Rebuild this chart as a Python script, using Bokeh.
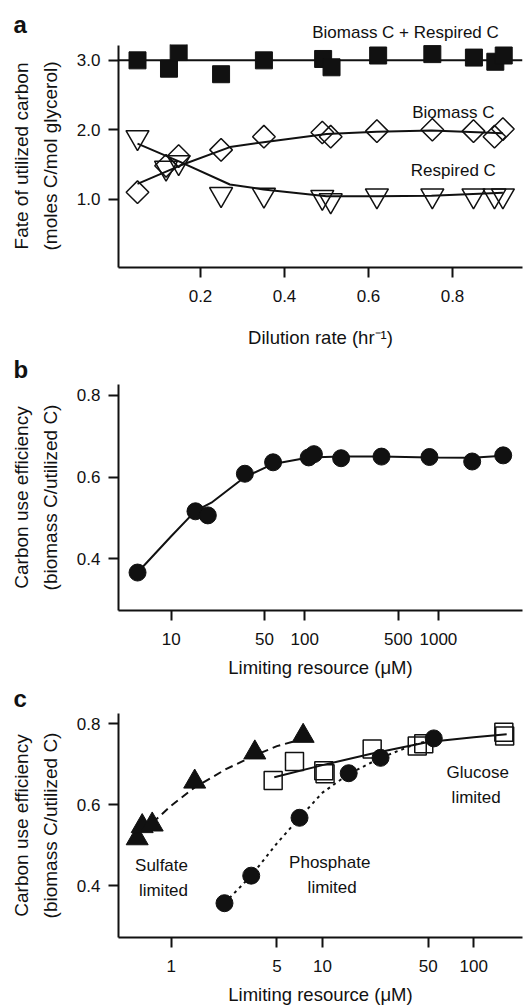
import numpy as np
from bokeh.plotting import figure
from bokeh.layouts import column, row
from bokeh.models import FixedTicker, PrintfTickFormatter, Label, Range1d, Title
from bokeh.core.properties import value
from bokeh.embed import file_html
from bokeh.resources import INLINE

FONT = "Liberation Sans"
INK = "#111111"

# ---------------- Panel a data ----------------
a_total_x = [0.05, 0.125, 0.148, 0.249, 0.351, 0.492, 0.512, 0.623, 0.752, 0.851, 0.902, 0.922]
a_total_y = [3.00, 2.88, 3.12, 2.80, 3.00, 3.02, 2.90, 3.07, 3.09, 3.04, 2.98, 3.07]
a_total_line = 3.0

a_bio_x = [0.05, 0.118, 0.148, 0.249, 0.351, 0.49, 0.51, 0.62, 0.752, 0.85, 0.90, 0.92]
a_bio_y = [1.10, 1.48, 1.62, 1.71, 1.90, 1.96, 1.90, 1.98, 2.00, 1.98, 1.90, 2.01]
a_resp_x = [0.05, 0.118, 0.148, 0.249, 0.351, 0.49, 0.51, 0.62, 0.752, 0.85, 0.90, 0.92]
a_resp_y = [1.89, 1.45, 1.53, 1.07, 1.06, 1.03, 0.98, 1.05, 1.05, 1.05, 1.05, 1.05]

a_fit_x = [0.05, 0.15, 0.27, 0.35, 0.50, 0.62, 0.75, 0.92]
a_bio_fit = [1.22, 1.48, 1.75, 1.82, 1.94, 1.97, 1.99, 1.95]
a_resp_fit = [1.80, 1.54, 1.21, 1.14, 1.04, 1.04, 1.05, 1.09]

a_xticks = [0.2, 0.4, 0.6, 0.8]
a_yticks = [1.0, 2.0, 3.0]
a_yaxis_span = (0.014, 3.214)

# ---------------- Panel b data ----------------
b_x = [5.6, 15.2, 18.8, 35.6, 57.9, 107, 117, 187, 375, 857, 1790, 3055]
b_y = [0.366, 0.516, 0.506, 0.608, 0.636, 0.648, 0.656, 0.646, 0.650, 0.649, 0.638, 0.653]
b_fit_x = [5.6, 10, 15.2, 20, 35.6, 58, 107, 187, 375, 857, 1790, 3055]
b_fit_y = [0.366, 0.455, 0.517, 0.537, 0.600, 0.632, 0.648, 0.650, 0.650, 0.648, 0.647, 0.652]
b_xticks = [10, 50, 100, 500, 1000]
bc_yticks = [0.4, 0.6, 0.8]

# ---------------- Panel c data ----------------
sulf_x = [0.596, 0.643, 0.749, 1.43, 3.57, 7.45]
sulf_y = [0.517, 0.547, 0.551, 0.657, 0.729, 0.770]
sulf_fit_x = [0.75, 1.0, 1.43, 2.3, 3.57, 5.0, 7.45]
sulf_fit_y = [0.555, 0.598, 0.643, 0.688, 0.722, 0.745, 0.763]

gluc_x = [4.72, 6.53, 10.2, 10.4, 21.3, 42.3, 46.7, 158, 160]
gluc_y = [0.660, 0.707, 0.684, 0.677, 0.738, 0.745, 0.751, 0.779, 0.770]
gluc_fit_x = [4.8, 10, 21, 50, 100, 165]
gluc_fit_y = [0.668, 0.698, 0.726, 0.755, 0.767, 0.774]

phos_x = [2.25, 3.38, 7.05, 14.9, 24.2, 54.4]
phos_y = [0.357, 0.425, 0.568, 0.678, 0.716, 0.764]
phos_fit_x = [2.25, 3.38, 5.0, 7.05, 10, 14.9, 24.2, 40, 54.4]
phos_fit_y = [0.357, 0.425, 0.505, 0.568, 0.630, 0.676, 0.716, 0.748, 0.762]
c_xticks = [1, 5, 10, 50, 100]


def style(p, xticks, yticks, xfmt, xlabel, ylabel, xlabel_standoff):
    p.xgrid.visible = False
    p.ygrid.visible = False
    p.outline_line_color = None
    p.background_fill_color = "white"
    p.border_fill_color = "white"
    p.xaxis.ticker = FixedTicker(ticks=xticks)
    p.yaxis.ticker = FixedTicker(ticks=yticks)
    p.xaxis.formatter = PrintfTickFormatter(format=xfmt)
    p.yaxis.formatter = PrintfTickFormatter(format="%.1f")
    for ax in (p.xaxis, p.yaxis):
        ax.axis_line_width = 2
        ax.axis_line_color = INK
        ax.major_tick_line_width = 2
        ax.major_tick_line_color = INK
        ax.major_tick_in = 0
        ax.major_tick_out = 10
        ax.minor_tick_line_color = None
        ax.major_label_text_font = FONT
        ax.major_label_text_font_size = "17px"
        ax.major_label_text_color = INK
        ax.axis_label_text_font = FONT
        ax.axis_label_text_font_style = "normal"
        ax.axis_label_text_color = INK
    p.xaxis.axis_label = xlabel
    p.yaxis.axis_label = ylabel
    p.xaxis.axis_label_text_font_size = "18.5px"
    p.yaxis.axis_label_text_font_size = "19px"
    p.yaxis.axis_label_text_line_height = 1.38
    p.xaxis.major_label_standoff = 12
    p.xaxis.axis_label_standoff = xlabel_standoff
    p.yaxis.major_label_standoff = 8
    p.yaxis.axis_label_standoff = 13


def add_label(p, x, y, text):
    p.add_layout(Label(x=x, y=y, text=text, text_font=FONT, text_font_size="17px",
                       text_align="center", text_baseline="alphabetic",
                       text_color=INK))


def panel_title(letter, offset):
    return Title(text=letter, align="left", offset=offset, standoff=4,
                 text_font=FONT, text_font_size="24px", text_font_style="bold",
                 text_color=INK)


W = 526
LEFT = 118
STRIP_H = 44

# ---------------- Header strip of panel a (letter + top label) ----------------
strip_l = figure(width=LEFT, height=STRIP_H, output_backend="svg", toolbar_location=None,
                 x_range=Range1d(0, 1), y_range=Range1d(0, 1), min_border=0,
                 min_border_left=0, min_border_right=0, min_border_top=39,
                 min_border_bottom=0, frame_align=False,
                 x_axis_location=None, y_axis_location=None)
strip_l.title = panel_title("a", 13)
strip_l.grid.visible = False
strip_l.outline_line_color = None

strip_r = figure(width=W - LEFT, height=STRIP_H, output_backend="svg",
                 toolbar_location=None,
                 x_range=Range1d(LEFT, W), y_range=Range1d(STRIP_H, 0), min_border=0,
                 min_border_left=0, min_border_right=0, min_border_top=0,
                 min_border_bottom=0, frame_align=False,
                 x_axis_location=None, y_axis_location=None, title=None)
strip_r.grid.visible = False
strip_r.outline_line_color = None
strip_r.text(x=[405], y=[31.7], text=["Biomass C + Respired C"], text_font=value(FONT),
             text_font_size="17px", text_align="center", text_baseline="alphabetic",
             text_color=INK)

# ---------------- Figure a ----------------
pa = figure(width=W, height=350 - STRIP_H, output_backend="svg", toolbar_location=None,
            x_range=Range1d(0.00476, 0.9667), y_range=Range1d(0.014, 3.2286),
            min_border_left=LEFT, min_border_right=4, min_border_top=0,
            min_border_bottom=81, title=None)
style(pa, a_xticks, a_yticks, "%.1f", "Dilution rate (hr\u207b\u00b9)",
      "Fate of utilized carbon\n(moles C/mol glycerol)", 22)
pa.yaxis.bounds = a_yaxis_span
pa.line([pa.x_range.start, pa.x_range.end], [a_total_line, a_total_line],
        line_color=INK, line_width=2)
pa.line(a_fit_x, a_bio_fit, line_color=INK, line_width=2)
pa.line(a_fit_x, a_resp_fit, line_color=INK, line_width=2)
pa.scatter(a_total_x, a_total_y, marker="square", size=17,
           fill_color=INK, line_color=INK)
pa.scatter(a_bio_x, a_bio_y, marker="square", angle=np.pi / 4, size=16,
           fill_color=None, line_color=INK, line_width=1.5)
pa.scatter(a_resp_x, a_resp_y, marker="inverted_triangle", size=23,
           fill_color=None, line_color=INK, line_width=1.5)
add_label(pa, 0.802, 2.247, "Biomass C")
add_label(pa, 0.802, 1.414, "Respired C")

# ---------------- Figure b ----------------
pb = figure(width=W, height=330, output_backend="svg", toolbar_location=None,
            x_axis_type="log",
            x_range=Range1d(4.033, 4261), y_range=Range1d(0.273, 0.8266),
            min_border_left=LEFT, min_border_right=4, min_border_top=34,
            min_border_bottom=67)
pb.title = panel_title("b", -105)
style(pb, b_xticks, bc_yticks, "%g", "Limiting resource (\u03bcM)",
      "Carbon use efficiency\n(biomass C/utilized C)", 9)
pb.line(b_fit_x, b_fit_y, line_color=INK, line_width=2)
pb.scatter(b_x, b_y, marker="circle", size=17, fill_color=INK, line_color=INK)

# ---------------- Figure c ----------------
pc = figure(width=W, height=327, output_backend="svg", toolbar_location=None,
            x_axis_type="log",
            x_range=Range1d(0.4484, 209.9), y_range=Range1d(0.2723, 0.8255),
            min_border_left=LEFT, min_border_right=4, min_border_top=33,
            min_border_bottom=65)
pc.title = panel_title("c", -105)
style(pc, c_xticks, bc_yticks, "%g", "Limiting resource (\u03bcM)",
      "Carbon use efficiency\n(biomass C/utilized C)", 9)
pc.line(sulf_fit_x, sulf_fit_y, line_color=INK, line_width=2, line_dash="8 5")
pc.line(gluc_fit_x, gluc_fit_y, line_color=INK, line_width=2)
pc.line(phos_fit_x, phos_fit_y, line_color=INK, line_width=2, line_dash="3 4")
pc.scatter(sulf_x, sulf_y, marker="triangle", size=22, fill_color=INK, line_color=INK)
pc.scatter(gluc_x, gluc_y, marker="square", size=18, fill_color=None,
           line_color=INK, line_width=1.5)
pc.scatter(phos_x, phos_y, marker="circle", size=17, fill_color=INK, line_color=INK)
add_label(pc, 0.863, 0.4513, "Sulfate")
add_label(pc, 0.889, 0.3887, "limited")
add_label(pc, 11.17, 0.4586, "Phosphate")
add_label(pc, 11.59, 0.3966, "limited")
add_label(pc, 106.3, 0.6795, "Glucose")
add_label(pc, 103.7, 0.6169, "limited")

layout = column(row(strip_l, strip_r), pa, pb, pc)
open("out.html", "w").write(file_html(layout, INLINE))
